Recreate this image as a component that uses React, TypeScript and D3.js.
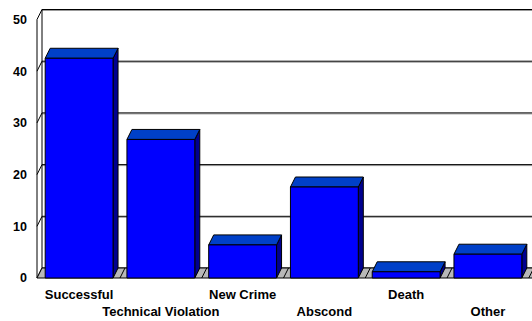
import React from 'react';
import * as d3 from 'd3';

const categories = ['Successful', 'Technical Violation', 'New Crime', 'Abscond', 'Death', 'Other'];
const values = [42.5, 26.8, 6.4, 17.6, 1.2, 4.6];
const yTicks = [0, 10, 20, 30, 40, 50];

export default function App() {
    const width = 532;
    const height = 321;
    // 3d depth offset
    const dx = 5;
    const dy = -10;

    const xScale = d3.scaleBand()
        .domain(categories)
        .range([37, 530])
        .paddingInner(0.17)
        .paddingOuter(0.1);

    const yScale = d3.scaleLinear()
        .domain([0, 50])
        .range([278, 19.5]);

    const step = xScale.step();
    const bw = xScale.bandwidth();
    const x0 = 37;
    const xEnd = 540;
    const y0 = yScale(0);
    const font = 'Arial, "Liberation Sans", sans-serif';

    const boundaries = categories.map((c, i) => (xScale(c) as number) + bw + step * 0.085);

    return (
        <div style={{ position: 'fixed', left: 0, top: 0 }}>
            <svg width={width} height={height} style={{ display: 'block', background: '#fff' }}>
                {/* back wall gridlines */}
                {yTicks.map(t => (
                    <g key={'g' + t}>
                        <line x1={x0 + dx} x2={xEnd} y1={yScale(t) + dy + 1} y2={yScale(t) + dy + 1} stroke="#999" strokeWidth={1} />
                        <line x1={x0 + dx} x2={xEnd} y1={yScale(t) + dy} y2={yScale(t) + dy} stroke="#000" strokeWidth={1} />
                    </g>
                ))}
                {/* left wall */}
                <line x1={x0 + dx} x2={x0 + dx} y1={yScale(50) + dy} y2={y0 + dy} stroke="#000" />
                <line x1={x0} x2={x0} y1={yScale(50)} y2={y0} stroke="#000" />
                {yTicks.map(t => (
                    <line key={'d' + t} x1={x0} y1={yScale(t)} x2={x0 + dx} y2={yScale(t) + dy} stroke="#000" />
                ))}
                {/* floor */}
                <polygon
                    points={`${x0},${y0} ${xEnd},${y0} ${xEnd + dx},${y0 + dy} ${x0 + dx},${y0 + dy}`}
                    fill="#b8b8b8" stroke="#000" strokeWidth={1} />
                {boundaries.map((b, i) => (
                    <line key={'b' + i} x1={b} y1={y0} x2={b + dx} y2={y0 + dy} stroke="#000" />
                ))}
                {/* bars */}
                {categories.map((c, i) => {
                    const x = xScale(c) as number;
                    const yt = yScale(values[i]);
                    return (
                        <g key={c} stroke="#000" strokeWidth={1} strokeLinejoin="round">
                            <polygon points={`${x + bw},${y0} ${x + bw + dx},${y0 + dy} ${x + bw + dx},${yt + dy} ${x + bw},${yt}`} fill="#000090" />
                            <polygon points={`${x},${yt} ${x + dx},${yt + dy} ${x + bw + dx},${yt + dy} ${x + bw},${yt}`} fill="#0040c8" />
                            <rect x={x} y={yt} width={bw} height={y0 - yt} fill="#0000ff" />
                        </g>
                    );
                })}
                {/* y tick labels */}
                {yTicks.map(t => (
                    <text key={'t' + t} x={27} y={yScale(t)} dy="0.35em" textAnchor="end"
                        fontFamily={font} fontWeight="bold" fontSize={12.5} fill="#000">{t}</text>
                ))}
                {/* category labels, staggered */}
                {categories.map((c, i) => (
                    <text key={'l' + c} x={(xScale(c) as number) + bw / 2} y={i % 2 === 0 ? 299 : 316}
                        textAnchor="middle" fontFamily={font} fontWeight="bold" fontSize={13} fill="#000">{c}</text>
                ))}
            </svg>
        </div>
    );
}
